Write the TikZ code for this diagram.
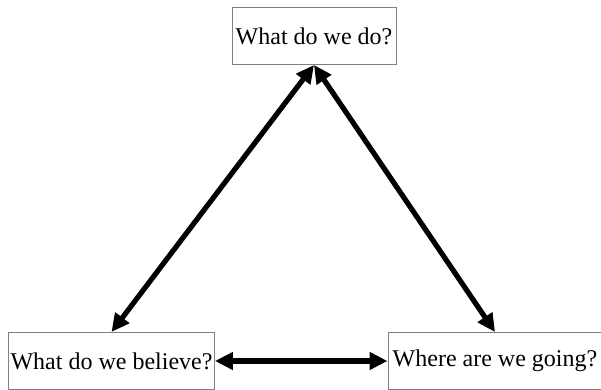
\documentclass[tikz,border=0pt]{standalone}
\usepackage{fontspec}
\setmainfont{Liberation Serif}
\usetikzlibrary{arrows.meta}

\begin{document}
\begin{tikzpicture}[
    x=0.5pt, y=-0.5pt,
    every node/.style={font=\fontsize{12}{14}\selectfont},
    question/.style={
        draw=gray,
        line width=0.5pt,
        align=center,
        inner xsep=1pt,
        minimum height=28.5pt
    },
    arr/.style={
        {Triangle[length=9pt,width=8.5pt]}-{Triangle[length=9pt,width=8.5pt]},
        line width=2.6pt
    }
]

    \useasboundingbox (0,0) rectangle (601,390);

    % Top box
    \node[question, minimum width=82pt] (do) at (314, 36) {What do we do?};

    % Bottom boxes
    \node[question, minimum width=101.5pt] (believe) at (111.5, 361) {What do we believe?};
    \node[question, minimum width=107pt] (going) at (495, 361) {Where are we going?};

    % Arrows
    \draw[arr] (do.south) -- (believe.north);
    \draw[arr] (do.south) -- (going.north);
    \draw[arr] (believe.east) -- (going.west);

\end{tikzpicture}
\end{document}
